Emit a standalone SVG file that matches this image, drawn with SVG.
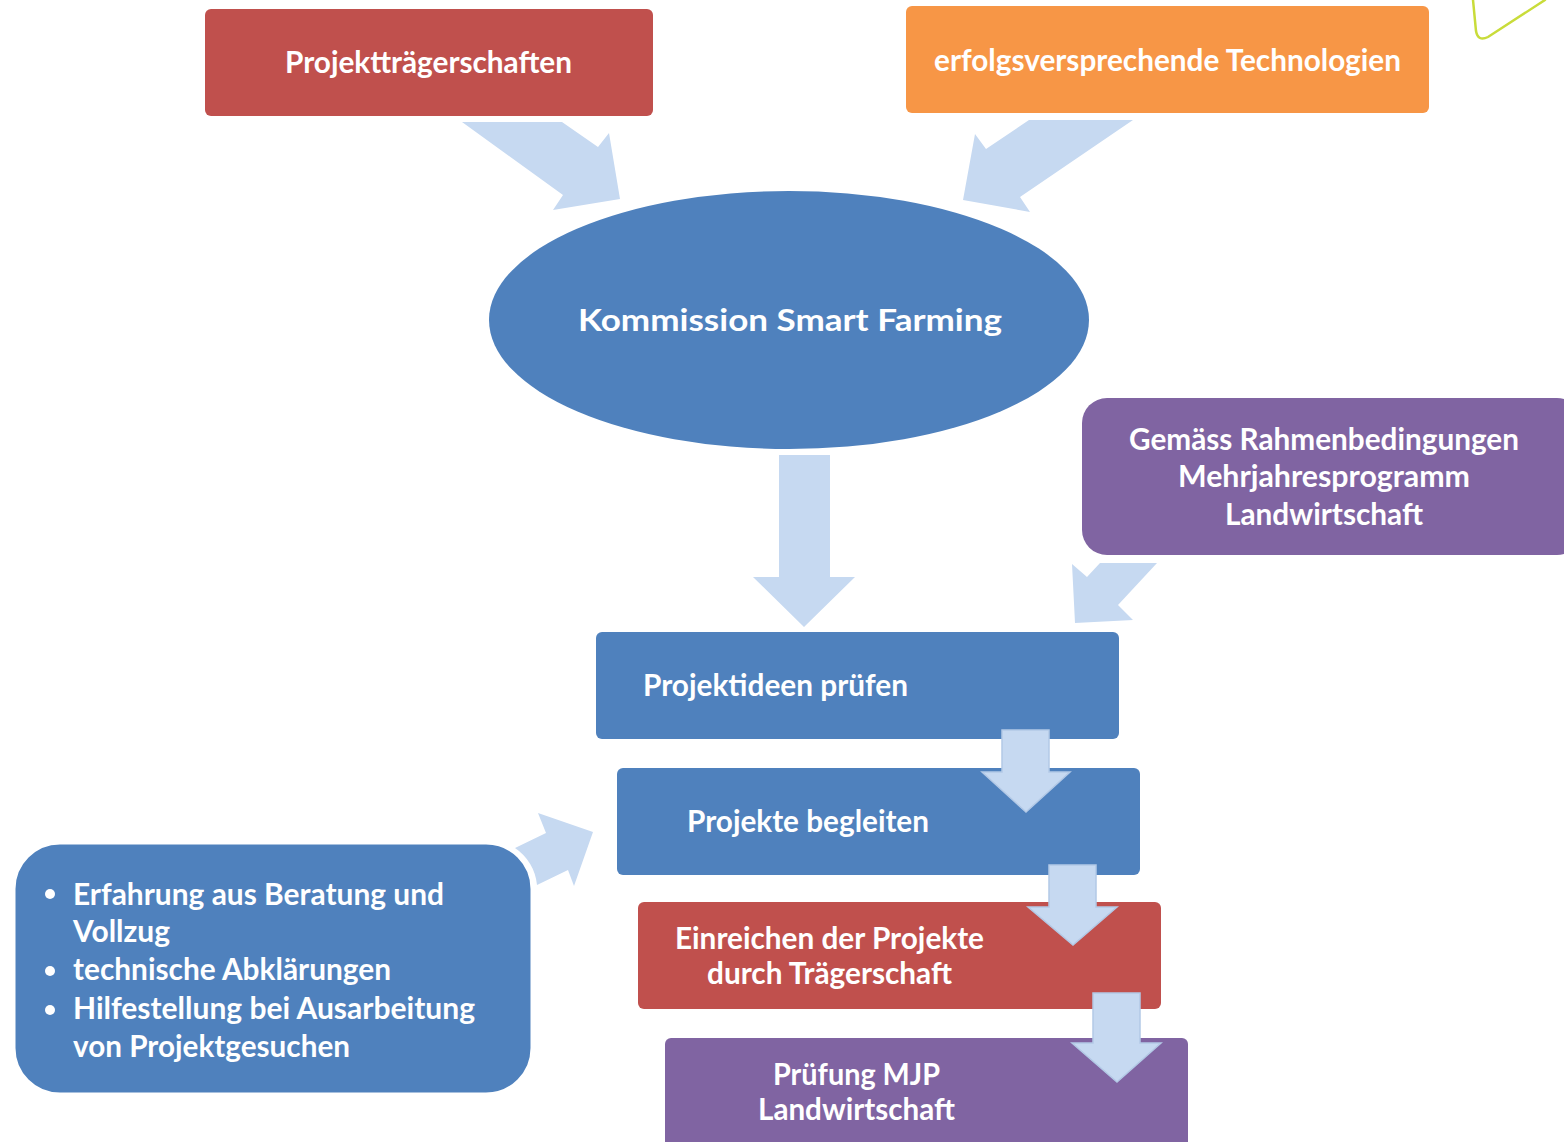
<svg xmlns="http://www.w3.org/2000/svg" width="1564" height="1142" viewBox="0 0 1564 1142">
<style>
.t{font-family:Lato,"Open Sans","Liberation Sans",sans-serif;font-weight:bold;font-size:30px;fill:#FFFFFF;}
.arr{fill:#C6D9F1;}
.chain{fill:#C6D9F1;stroke:#B3C9E6;stroke-width:1.5;}
.red{fill:#C0504D;}
.orange{fill:#F79646;}
.blue{fill:#4F81BD;}
.purple{fill:#8064A2;}
</style>
<rect width="1564" height="1142" fill="#FFFFFF"/>
<path d="M1473,0 L1476,31 Q1478,42 1488,37 L1545,0" fill="none" stroke="#C9DC3A" stroke-width="2.5" stroke-linecap="round"/>
<g id="nodes">
<g id="n-projekttraeger">
<rect class="red" x="205" y="9" width="448" height="107" rx="6"/>
<text class="t" x="285" y="73" textLength="287" lengthAdjust="spacingAndGlyphs">Projektträgerschaften</text>
</g>
<g id="n-technologien">
<rect class="orange" x="906" y="6" width="523" height="107" rx="6"/>
<text class="t" x="934" y="71" textLength="467" lengthAdjust="spacingAndGlyphs">erfolgsversprechende Technologien</text>
</g>
<g id="n-kommission">
<ellipse class="blue" cx="789" cy="320" rx="300" ry="129"/>
<text class="t" x="578" y="331" font-size="31" textLength="424" lengthAdjust="spacingAndGlyphs">Kommission Smart Farming</text>
</g>
<g id="n-rahmen">
<rect class="purple" x="1082" y="398" width="500" height="157" rx="25"/>
<text class="t" x="1129" y="450" textLength="390" lengthAdjust="spacingAndGlyphs">Gemäss Rahmenbedingungen</text>
<text class="t" x="1178" y="487" textLength="292" lengthAdjust="spacingAndGlyphs">Mehrjahresprogramm</text>
<text class="t" x="1225" y="525" textLength="198" lengthAdjust="spacingAndGlyphs">Landwirtschaft</text>
</g>
<g id="n-pruefen">
<rect class="blue" x="596" y="632" width="523" height="107" rx="6"/>
<text class="t" x="643" y="696" textLength="265" lengthAdjust="spacingAndGlyphs">Projektideen prüfen</text>
</g>
<g id="n-begleiten">
<rect class="blue" x="617" y="768" width="523" height="107" rx="6"/>
<text class="t" x="687" y="832" textLength="242" lengthAdjust="spacingAndGlyphs">Projekte begleiten</text>
</g>
<g id="n-einreichen">
<rect class="red" x="638" y="902" width="523" height="107" rx="6"/>
<text class="t" x="675" y="949" textLength="309" lengthAdjust="spacingAndGlyphs">Einreichen der Projekte</text>
<text class="t" x="707" y="984" textLength="245" lengthAdjust="spacingAndGlyphs">durch Trägerschaft</text>
</g>
<g id="n-mjp">
<rect class="purple" x="665" y="1038" width="523" height="120" rx="6"/>
<text class="t" x="773" y="1085" textLength="167" lengthAdjust="spacingAndGlyphs">Prüfung MJP</text>
<text class="t" x="758" y="1120" textLength="197" lengthAdjust="spacingAndGlyphs">Landwirtschaft</text>
</g>
<g id="n-erfahrung">
<rect class="blue" x="14" y="843" width="518" height="251" rx="46" stroke="#FFFFFF" stroke-width="3"/>
<circle cx="50" cy="894" r="5" fill="#FFFFFF"/>
<circle cx="50" cy="971" r="5" fill="#FFFFFF"/>
<circle cx="50" cy="1010" r="5" fill="#FFFFFF"/>
<text class="t" x="73" y="905" textLength="371" lengthAdjust="spacingAndGlyphs">Erfahrung aus Beratung und</text>
<text class="t" x="73" y="942" textLength="97" lengthAdjust="spacingAndGlyphs">Vollzug</text>
<text class="t" x="73" y="980" textLength="318" lengthAdjust="spacingAndGlyphs">technische Abklärungen</text>
<text class="t" x="73" y="1019" textLength="402" lengthAdjust="spacingAndGlyphs">Hilfestellung bei Ausarbeitung</text>
<text class="t" x="73" y="1057" textLength="277" lengthAdjust="spacingAndGlyphs">von Projektgesuchen</text>
</g>
</g>
<g id="connectors">
<polygon class="arr" points="462,122 562,122 598,147 609,133 620,199 553,210 563,195"/>
<polygon class="arr" points="1029,120 1133,120 1020,197 1030,212 963,200 975,134 986,149"/>
<polygon class="arr" points="779,455 830,455 830,577 855,577 804,627 753,577 779,577"/>
<polygon class="arr" points="1072,564 1087,577 1100,563 1157,563 1118,605 1133,620 1075,623"/>
<path class="arr" d="M515,848 L546,833 L538,813 L593,832 L574,886 L568,870 L537,885 A50 50 0 0 0 515,848 Z"/>
<polygon class="chain" points="1002,730 1049,730 1049,772 1070,772 1026,812 982,772 1002,772"/>
<polygon class="chain" points="1049,865 1096,865 1096,907 1117,907 1073,945 1028,907 1049,907"/>
<polygon class="chain" points="1093,993 1140,993 1140,1043 1161,1043 1117,1082 1072,1043 1093,1043"/>
</g>
</svg>
